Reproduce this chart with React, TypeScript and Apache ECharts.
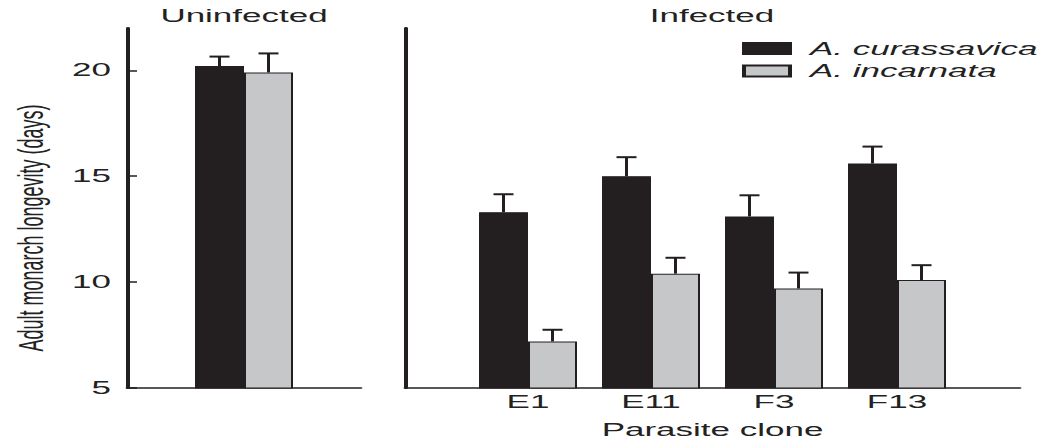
import React, { useEffect, useRef } from "react";
import * as echarts from "echarts";

// ---- data ----
const uninfectedCategory = ["Uninfected"];
const uninfectedCurassavica = [20.2];
const uninfectedCurassavicaErr = [0.45];
const uninfectedIncarnata = [19.9];
const uninfectedIncarnataErr = [0.9];

const clones = ["E1", "E11", "F3", "F13"];
const infectedCurassavica = [13.3, 15.0, 13.1, 15.6];
const infectedCurassavicaErr = [0.85, 0.9, 1.0, 0.8];
const infectedIncarnata = [7.2, 10.4, 9.7, 10.1];
const infectedIncarnataErr = [0.55, 0.75, 0.75, 0.7];

const yTicks = [5, 10, 15, 20];
const yMin = 5;
const yMax = 22;

const seriesNames = ["A. curassavica", "A. incarnata"];

// ---- styling ----
const INK = "#231f20";
const GREY = "#c6c7c9";
const TEXT = "#222222";
const FONT = "'Liberation Sans', Arial, Helvetica, sans-serif";
const FS = 17.5;
const BAR_W = 24.5;
const CHART_W = 520.5; // drawn at half width, then stretched 2x like the reference
const CHART_H = 444;

function errorRenderer(dx: number) {
  return (params: any, api: any) => {
    const x = api.value(0);
    const v = api.value(1);
    const e = api.value(2);
    const base = api.coord([x, v]);
    const top = api.coord([x, v + e]);
    const cx = base[0] + dx;
    return {
      type: "group",
      children: [
        {
          type: "line",
          shape: { x1: cx, y1: base[1], x2: cx, y2: top[1] },
          style: { stroke: INK, lineWidth: 1.5 },
        },
        {
          type: "line",
          shape: { x1: cx - 5, y1: top[1], x2: cx + 5, y2: top[1] },
          style: { stroke: INK, lineWidth: 2 },
        },
      ],
    };
  };
}

export default function App() {
  const ref = useRef<HTMLDivElement>(null);

  useEffect(() => {
    if (!ref.current) return;
    const chart = echarts.init(ref.current, null, {
      renderer: "svg",
      width: CHART_W,
      height: CHART_H,
    });

    const rightCats = ["", ...clones, ""];
    const pad = (arr: number[]) => [null, ...arr, null];

    const errData = (vals: number[], errs: number[], offset: number) =>
      vals.map((v, i) => [i + offset, v, errs[i]]);

    const yAxisBase = {
      type: "value",
      min: yMin,
      max: yMax,
      splitLine: { show: false },
      axisLine: { show: true, lineStyle: { color: INK, width: 2 } },
    };

    const option: any = {
      animation: false,
      backgroundColor: "#ffffff",
      textStyle: { fontFamily: FONT },
      grid: [
        { left: 63.5, width: 117, top: 28, height: 360 },
        { left: 202.5, width: 307.5, top: 28, height: 360 },
      ],
      xAxis: [
        {
          type: "category",
          gridIndex: 0,
          data: uninfectedCategory,
          axisLine: { show: true, onZero: false, lineStyle: { color: INK, width: 1.5 } },
          axisTick: { show: false },
          axisLabel: { show: false },
        },
        {
          type: "category",
          gridIndex: 1,
          data: rightCats,
          boundaryGap: false,
          axisLine: { show: true, onZero: false, lineStyle: { color: INK, width: 1.5 } },
          axisTick: { show: false },
          axisLabel: {
            interval: 0,
            margin: 5,
            color: TEXT,
            fontSize: FS,
            fontFamily: FONT,
          },
          name: "Parasite clone",
          nameLocation: "middle",
          nameGap: 33,
          nameTextStyle: { color: TEXT, fontSize: FS, fontFamily: FONT },
        },
      ],
      yAxis: [
        {
          ...yAxisBase,
          gridIndex: 0,
          axisTick: {
            show: true,
            inside: true,
            length: 5,
            customValues: yTicks,
            lineStyle: { color: INK, width: 1.5 },
          },
          axisLabel: {
            show: true,
            margin: 8,
            color: TEXT,
            fontSize: FS,
            fontFamily: FONT,
            customValues: yTicks,
          },
        },
        {
          ...yAxisBase,
          gridIndex: 1,
          axisTick: { show: false },
          axisLabel: { show: false },
        },
      ],
      legend: {
        orient: "vertical",
        left: 371,
        top: 39.5,
        padding: 0,
        icon: "rect",
        itemWidth: 23,
        itemHeight: 11,
        itemGap: 4.5,
        selectedMode: false,
        data: seriesNames,
        textStyle: {
          color: TEXT,
          fontSize: FS,
          fontStyle: "italic",
          fontFamily: FONT,
          padding: [0, 0, 0, 5],
        },
      },
      graphic: [
        {
          type: "text",
          x: 122,
          y: 16,
          style: {
            text: "Uninfected",
            fill: TEXT,
            font: `${FS}px ${FONT}`,
            align: "center",
            verticalAlign: "middle",
          },
        },
        {
          type: "text",
          x: 356,
          y: 16,
          style: {
            text: "Infected",
            fill: TEXT,
            font: `${FS}px ${FONT}`,
            align: "center",
            verticalAlign: "middle",
          },
        },
        {
          type: "text",
          x: 15,
          y: 228,
          rotation: Math.PI / 2,
          style: {
            text: "Adult monarch longevity (days)",
            fill: TEXT,
            font: `18px ${FONT}`,
            align: "center",
            verticalAlign: "middle",
          },
        },
      ],
      series: [
        {
          name: seriesNames[0],
          type: "bar",
          xAxisIndex: 0,
          yAxisIndex: 0,
          data: uninfectedCurassavica,
          barWidth: BAR_W,
          barGap: "0%",
          itemStyle: { color: INK, borderColor: INK, borderWidth: 1 },
        },
        {
          name: seriesNames[1],
          type: "bar",
          xAxisIndex: 0,
          yAxisIndex: 0,
          data: uninfectedIncarnata,
          barWidth: BAR_W,
          barGap: "0%",
          itemStyle: { color: GREY, borderColor: INK, borderWidth: 1 },
        },
        {
          name: seriesNames[0],
          type: "bar",
          xAxisIndex: 1,
          yAxisIndex: 1,
          data: pad(infectedCurassavica),
          barWidth: BAR_W,
          barGap: "0%",
          itemStyle: { color: INK, borderColor: INK, borderWidth: 1 },
        },
        {
          name: seriesNames[1],
          type: "bar",
          xAxisIndex: 1,
          yAxisIndex: 1,
          data: pad(infectedIncarnata),
          barWidth: BAR_W,
          barGap: "0%",
          itemStyle: { color: GREY, borderColor: INK, borderWidth: 1 },
        },
        {
          type: "custom",
          xAxisIndex: 0,
          yAxisIndex: 0,
          z: 5,
          renderItem: errorRenderer(-BAR_W / 2),
          data: errData(uninfectedCurassavica, uninfectedCurassavicaErr, 0),
        },
        {
          type: "custom",
          xAxisIndex: 0,
          yAxisIndex: 0,
          z: 5,
          renderItem: errorRenderer(BAR_W / 2),
          data: errData(uninfectedIncarnata, uninfectedIncarnataErr, 0),
        },
        {
          type: "custom",
          xAxisIndex: 1,
          yAxisIndex: 1,
          z: 5,
          renderItem: errorRenderer(-BAR_W / 2),
          data: errData(infectedCurassavica, infectedCurassavicaErr, 1),
        },
        {
          type: "custom",
          xAxisIndex: 1,
          yAxisIndex: 1,
          z: 5,
          renderItem: errorRenderer(BAR_W / 2),
          data: errData(infectedIncarnata, infectedIncarnataErr, 1),
        },
      ],
    };

    chart.setOption(option);
    return () => chart.dispose();
  }, []);

  return (
    <div
      ref={ref}
      style={{
        position: "fixed",
        left: 0,
        top: 0,
        width: CHART_W,
        height: CHART_H,
        transform: "scaleX(2)",
        transformOrigin: "0 0",
        background: "#ffffff",
      }}
    />
  );
}
